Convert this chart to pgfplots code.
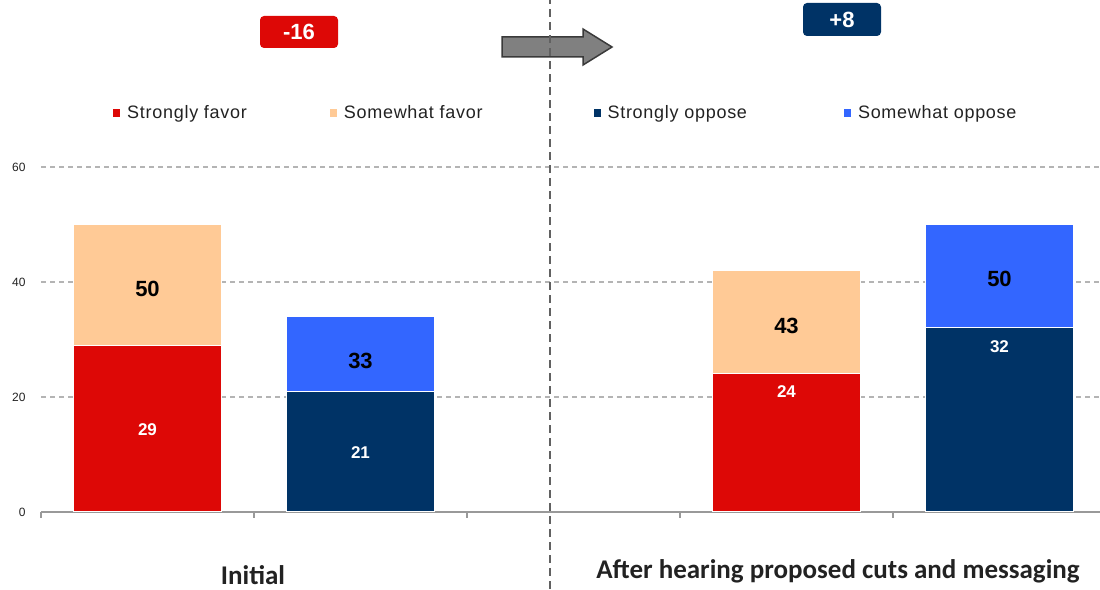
\documentclass[border=0pt]{standalone}
\usepackage{fontspec}
\setmainfont{Liberation Sans}
\newfontfamily\carlito{Carlito}
\newfontfamily\legendfont[LetterSpace=4]{Liberation Sans}
\usepackage{pgfplots}
\pgfplotsset{compat=1.18}

\definecolor{cRed}{HTML}{DD0806}
\definecolor{cPeach}{HTML}{FFCA96}
\definecolor{cNavy}{HTML}{003366}
\definecolor{cBlue}{HTML}{3366FF}
\definecolor{cGrid}{HTML}{B4B4B4}
\definecolor{cAxis}{HTML}{999999}
\definecolor{cText}{HTML}{222222}
\definecolor{cArrow}{HTML}{808080}
\definecolor{cArrowDark}{HTML}{3A3A3A}

\begin{document}
\begin{tikzpicture}[x=1pt,y=1pt]
\useasboundingbox (0,0) rectangle (1100,589);

\begin{axis}[
    at={(41pt,77pt)}, anchor=south west,
    scale only axis, width=1065pt, height=345pt,
    xmin=-0.5, xmax=4.5, ymin=0, ymax=60,
    ybar stacked, bar width=148pt,
    axis x line*=bottom, axis y line*=left,
    y axis line style={draw=none},
    x axis line style={cAxis, line width=1.2pt},
    xtick={-0.5,0.5,1.5,2.5,3.5}, xticklabels={},
    tick align=outside, major tick length=6pt,
    x tick style={cAxis, line width=1.2pt},
    ytick={0,20,40,60},
    y tick style={draw=none},
    ymajorgrids,
    grid style={cGrid, line width=1.3pt, dash pattern=on 5pt off 4pt},
    yticklabel style={font=\fontsize{12}{12}\selectfont, text=cText, xshift=-6pt},
    /pgf/number format/assume math mode=true,
    legend columns=4,
    legend image code/.code={\fill[#1, draw=none] (0pt,-4pt) rectangle (7pt,4pt);
                             \path[draw=none, fill=none] (0pt,0pt) -- (14pt,0pt);},
    legend style={at={(0.0676,1.1565)}, anchor=west, draw=none, fill=none,
        inner sep=0pt, nodes={inner sep=0pt}, text=cText,
        font=\legendfont\fontsize{18}{20}\selectfont,
        /tikz/column 2/.style={column sep=83pt},
        /tikz/column 4/.style={column sep=111pt},
        /tikz/column 6/.style={column sep=97pt}},
]
% order: strongly favor, somewhat favor, strongly oppose, somewhat oppose
\addplot[fill=cRed, draw=white, line width=1pt] coordinates {(0,29) (1,0) (3,24) (4,0)};
\addlegendentry{Strongly favor}
\addplot[fill=cPeach, draw=white, line width=1pt] coordinates {(0,21) (1,0) (3,18) (4,0)};
\addlegendentry{Somewhat favor}
\addplot[fill=cNavy, draw=white, line width=1pt] coordinates {(0,0) (1,21) (3,0) (4,32)};
\addlegendentry{Strongly oppose}
\addplot[fill=cBlue, draw=white, line width=1pt] coordinates {(0,0) (1,13) (3,0) (4,18)};
\addlegendentry{Somewhat oppose}

% label positions (drawn after the axis so the bars do not cover them)
\coordinate (a1) at (axis cs:0,14.3);
\coordinate (a2) at (axis cs:1,10.4);
\coordinate (a3) at (axis cs:3,20.9);
\coordinate (a4) at (axis cs:4,28.7);
\coordinate (b1) at (axis cs:0,38.8);
\coordinate (b2) at (axis cs:1,26.3);
\coordinate (b3) at (axis cs:3,32.3);
\coordinate (b4) at (axis cs:4,40.5);
\end{axis}

\begin{scope}[every node/.style={text=white, font=\bfseries\fontsize{17}{17}\selectfont}]
\node at (a1) {29};
\node at (a2) {21};
\node at (a3) {24};
\node at (a4) {32};
\end{scope}
\begin{scope}[every node/.style={text=black, font=\bfseries\fontsize{22}{22}\selectfont}]
\node at (b1) {50};
\node at (b2) {33};
\node at (b3) {43};
\node at (b4) {50};
\end{scope}

% change badges
\node[fill=cRed, rounded corners=4pt, minimum width=78pt, minimum height=32pt,
      inner sep=0pt, text=white, font=\bfseries\fontsize{22}{22}\selectfont] at (299,557) {-16};
\node[fill=cNavy, rounded corners=4pt, minimum width=78pt, minimum height=33pt,
      inner sep=0pt, text=white, font=\bfseries\fontsize{22}{22}\selectfont] at (842,569.5) {+8};

% arrow
\filldraw[fill=cArrow, draw=cArrowDark, line width=1.5pt, line join=miter]
    (502,552) -- (583,552) -- (583,560) -- (612,542) -- (583,524) -- (583,532) -- (502,532) -- cycle;

% divider
\draw[cArrowDark!80, line width=1.2pt, dash pattern=on 8pt off 5pt] (550,0) -- (550,589);

% group labels
\node[anchor=base, inner sep=0pt, text=cText, font=\carlito\bfseries\fontsize{27}{27}\selectfont] at (253,5) {Initial};
\node[anchor=base, inner sep=0pt, text=cText, font=\carlito\bfseries\fontsize{27}{27}\selectfont] at (838,10) {After hearing proposed cuts and messaging};
\end{tikzpicture}
\end{document}
